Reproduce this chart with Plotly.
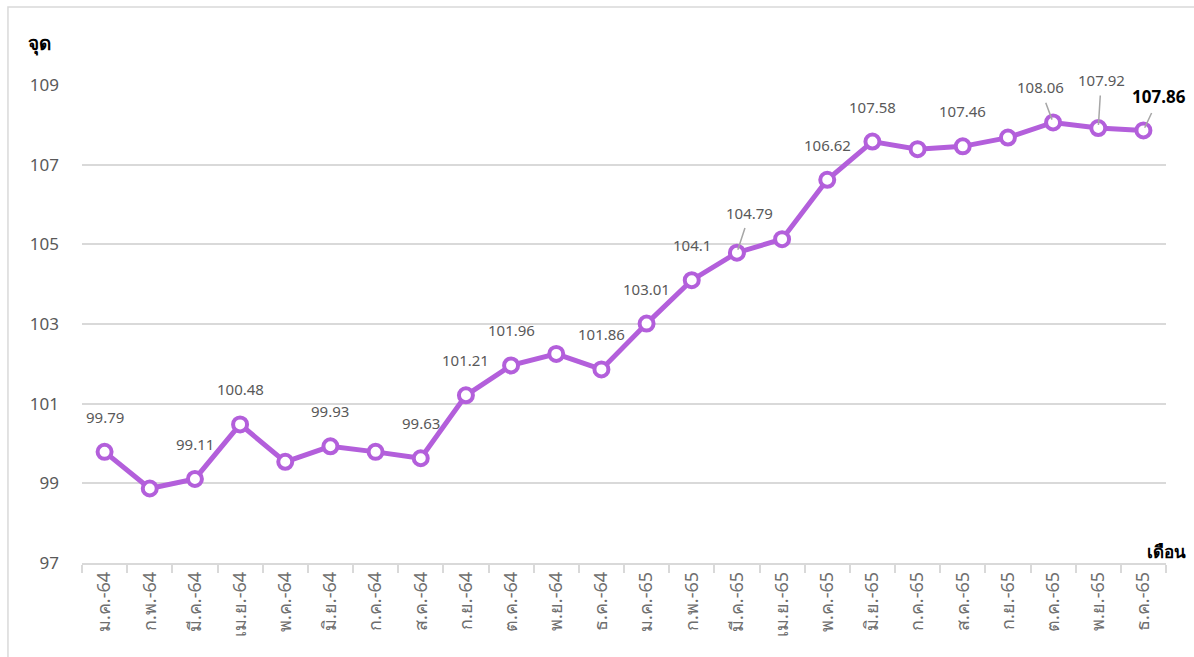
import plotly.graph_objects as go

# Monthly index values, Jan 2021 (B.E. 2564) to Dec 2022 (B.E. 2565)
months = [
    "ม.ค.-64", "ก.พ.-64", "มี.ค.-64", "เม.ย.-64", "พ.ค.-64", "มิ.ย.-64",
    "ก.ค.-64", "ส.ค.-64", "ก.ย.-64", "ต.ค.-64", "พ.ย.-64", "ธ.ค.-64",
    "ม.ค.-65", "ก.พ.-65", "มี.ค.-65", "เม.ย.-65", "พ.ค.-65", "มิ.ย.-65",
    "ก.ค.-65", "ส.ค.-65", "ก.ย.-65", "ต.ค.-65", "พ.ย.-65", "ธ.ค.-65",
]
index_values = [
    99.79, 98.87, 99.11, 100.48, 99.54, 99.93,
    99.79, 99.63, 101.21, 101.96, 102.25, 101.86,
    103.01, 104.10, 104.79, 105.13, 106.62, 107.58,
    107.39, 107.46, 107.68, 108.06, 107.92, 107.86,
]
# indices of the points that carry a value label
labelled = [0, 2, 3, 5, 7, 8, 9, 11, 12, 13, 14, 16, 17, 19, 21, 22, 23]
y_ticks = [97, 99, 101, 103, 105, 107, 109]

LINE = "#B35FDB"
GRID = "#D9D9D9"
TEXT = "#595959"
FONT = "Noto Sans, DejaVu Sans, sans-serif"

fig = go.Figure()
fig.add_trace(go.Scatter(
    x=months, y=index_values, mode="lines+markers",
    line=dict(color=LINE, width=5),
    marker=dict(size=14, color="white", line=dict(color=LINE, width=4)),
    hoverinfo="x+y", showlegend=False,
))

# label offsets (pixels) for labels that sit away from their point with a leader line
leader = {14: (13, -40), 21: (-13, -35), 22: (3, -48), 23: (16, -34)}

for i in labelled:
    v = index_values[i]
    txt = f"{v:g}"
    last = i == len(index_values) - 1
    font = dict(family=FONT, size=17 if last else 15,
                color="#000000" if last else TEXT)
    if last:
        txt = f"<b>{txt}</b>"
    if i in leader:
        ax, ay = leader[i]
        fig.add_annotation(
            x=months[i], y=v, text=txt, font=font,
            showarrow=True, arrowhead=0, arrowwidth=1.5, arrowcolor="#A6A6A6",
            ax=ax, ay=ay, standoff=3, startstandoff=4,
        )
    else:
        fig.add_annotation(
            x=months[i], y=v, text=txt, font=font,
            showarrow=False, yshift=35,
        )

# axis titles
fig.add_annotation(xref="paper", yref="paper", x=-0.052, y=1.119,
                   text="<b>จุด</b>", showarrow=False,
                   font=dict(family=FONT, size=19, color="#000000"))
fig.add_annotation(xref="paper", yref="paper", x=1.02, y=-0.004,
                   text="<b>เดือน</b>", showarrow=False, xanchor="right",
                   font=dict(family=FONT, size=17, color="#000000"))

# outer frame of the chart area
fig.add_shape(type="rect", xref="paper", yref="paper",
              x0=-0.0683, x1=1.05, y0=-0.25, y1=1.163,
              line=dict(color=GRID, width=1.5), layer="below")

fig.update_layout(
    width=1194, height=657,
    margin=dict(l=82, r=28, t=85, b=94),
    paper_bgcolor="white", plot_bgcolor="white",
    font=dict(family=FONT, color=TEXT),
)
fig.update_xaxes(
    type="category", tickangle=-90, tickson="boundaries",
    ticks="outside", ticklen=8, tickcolor=GRID, tickwidth=1.5,
    showline=True, linecolor=GRID, linewidth=1.5,
    showgrid=False, tickfont=dict(family=FONT, size=18, color="#6E6E6E"),
    range=[-0.5, len(months) - 0.5],
)
fig.update_yaxes(
    range=[97, 109], tickvals=y_ticks, showgrid=True, gridcolor=GRID,
    gridwidth=1.5, zeroline=False, showline=False, ticks="",
    ticklabelstandoff=22, tickfont=dict(family=FONT, size=17, color=TEXT),
)

fig.write_html("out.html")
